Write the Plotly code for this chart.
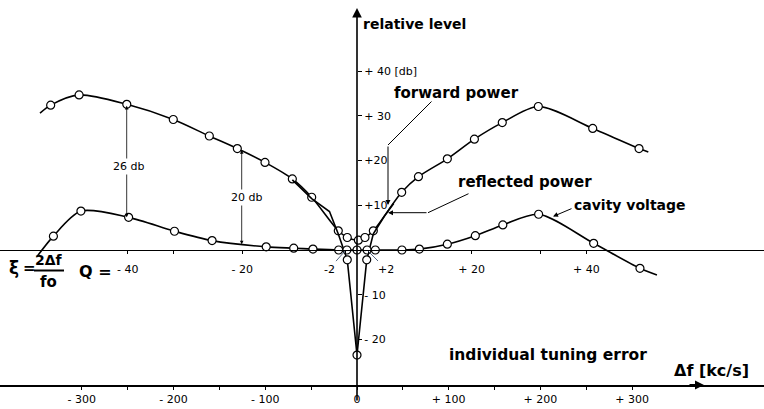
import plotly.graph_objects as go

# ---------------- data ----------------
# forward power: detuning [kc/s] and relative level [db]
fwd_freq = [-345.6, -334.0, -303.0, -251.0, -200.3, -161.0, -130.5, -100.3, -70.5, -49.4,
            -20.4, -10.6, 1.5, 8.7, 17.8, 48.7, 67.0, 98.5, 128.0, 158.4, 197.7, 257.0, 307.5, 317.6]
fwd_db = [30.6, 32.4, 34.7, 32.6, 29.2, 25.5, 22.7, 19.6, 15.9, 11.8,
          4.3, 2.8, 2.2, 2.8, 4.3, 12.9, 16.4, 20.4, 24.8, 28.5, 32.1, 27.2, 22.7, 21.9]
fwd_marker = [0] + [1] * 22 + [0]

# cavity voltage
cav_freq = [-349.0, -331.0, -301.0, -249.0, -199.0, -158.0, -99.0, -69.0, -48.0, -20.0, -11.0, 0.0,
            11.0, 20.0, 49.0, 68.0, 98.5, 129.0, 159.0, 198.0, 258.0, 308.5, 327.0]
cav_db = [-1.5, 3.1, 8.7, 7.3, 4.2, 2.1, 0.7, 0.4, 0.2, 0.0, 0.0, 0.0,
          0.0, 0.0, 0.0, 0.2, 1.3, 3.2, 5.6, 8.0, 1.5, -4.1, -5.6]
cav_marker = [0] + [1] * 21 + [0]

# reflected power
ref_freq = [-70.5, -49.4, -30.0, -20.4, -10.6, 0.0, 10.6, 17.8, 30.0, 40.0]
ref_db = [15.7, 11.5, 8.6, 3.6, -2.2, -23.5, -2.2, 3.6, 7.6, 10.4]
ref_marker = [0, 0, 0, 0, 1, 1, 1, 0, 0, 0]

# axes ticks
df_ticks = [-300, -250, -200, -150, -100, -50, 0, 50, 100, 150, 200, 250, 300]
df_labels = ["- 300", "", "- 200", "", "- 100", "", "0", "", "+ 100", "", "+ 200", "", "+ 300"]
q_ticks = [-40, -32, -20, -2, 2, 20, 32, 40]
q_labels = ["- 40", "", "- 20", "", "", "+ 20", "", "+ 40"]
db_ticks = [-20, -10, 10, 20, 30, 40]
db_labels = ["- 20", "- 10", "+10", "+20", "+ 30", "+ 40 [db]"]

# ---------------- geometry helpers (pixel -> data) ----------------
W, H = 764, 409
X0, KX = 357.0, 0.9172   # pixel of 0 kc/s, px per kc/s
Y0, KY = 250.0, 4.47     # pixel of 0 db, px per db
Q_PER_KC = 40.0 / 250.0


def fx(px):
    return (px - X0) / KX


def fy(py):
    return (Y0 - py) / KY


FONT = "DejaVu Sans"
fig = go.Figure()

mk = dict(symbol="circle", size=8, color="white", line=dict(color="black", width=1.2))

fig.add_trace(go.Scatter(x=fwd_freq, y=fwd_db, mode="lines+markers",
                         line=dict(color="black", width=1.6, shape="spline", smoothing=0.8),
                         marker=dict(mk, opacity=fwd_marker), name="forward power"))
fig.add_trace(go.Scatter(x=ref_freq, y=ref_db, mode="lines+markers",
                         line=dict(color="black", width=1.6),
                         marker=dict(mk, opacity=ref_marker), name="reflected power"))
fig.add_trace(go.Scatter(x=cav_freq, y=cav_db, mode="lines+markers",
                         line=dict(color="black", width=1.6, shape="spline", smoothing=0.8),
                         marker=dict(mk, opacity=cav_marker), name="cavity voltage"))
# invisible trace so that the Q axis is drawn
fig.add_trace(go.Scatter(x=q_ticks, y=[0] * len(q_ticks), xaxis="x2", yaxis="y",
                         mode="markers", marker=dict(opacity=0), hoverinfo="skip"))

xr = [fx(0), fx(W)]
fig.update_layout(
    width=W, height=H, margin=dict(l=0, r=0, t=0, b=0), autosize=False,
    paper_bgcolor="white", plot_bgcolor="white", showlegend=False,
    font=dict(family=FONT, color="black"),
    xaxis=dict(range=xr, domain=[0, 1], anchor="free", position=1 - 386 / H,
               showline=True, linecolor="black", linewidth=1.5,
               ticks="outside", ticklen=3, tickwidth=1.2, tickcolor="black",
               tickvals=df_ticks, ticktext=df_labels, tickfont=dict(size=11, family=FONT),
               showgrid=False, zeroline=False),
    xaxis2=dict(range=[xr[0] * Q_PER_KC, xr[1] * Q_PER_KC], overlaying="x", anchor="free",
                position=1 - 250 / H, side="bottom",
                showline=True, linecolor="black", linewidth=1.4,
                ticks="outside", ticklen=3, tickwidth=1.2, tickcolor="black",
                tickvals=q_ticks, ticktext=q_labels, tickfont=dict(size=11, family=FONT),
                ticklabelstandoff=6, showgrid=False, zeroline=False),
    yaxis=dict(range=[fy(H), fy(0)], domain=[0, 1], anchor="free", position=X0 / W, side="right",
               showline=False, ticks="outside", ticklen=4, tickwidth=1.2, tickcolor="black",
               tickvals=db_ticks, ticktext=db_labels, tickfont=dict(size=11, family=FONT),
               showgrid=False, zeroline=False),
)

anns = []


def text(t, px, py, size=15, bold=True, xanchor="left", bg=None):
    a = dict(x=fx(px), y=fy(py), xref="x", yref="y", text=f"<b>{t}</b>" if bold else t,
             showarrow=False, xanchor=xanchor, yanchor="middle",
             font=dict(size=size, family=FONT, color="black"))
    if bg:
        a["bgcolor"] = bg
    anns.append(a)


def arrow(px1, py1, px2, py2, head=0, width=1.0, side="end", size=1.0):
    anns.append(dict(x=fx(px2), y=fy(py2), ax=fx(px1), ay=fy(py1), xref="x", yref="y",
                     axref="x", ayref="y", text="", showarrow=True, arrowhead=head,
                     startarrowhead=head, arrowside=side, arrowwidth=width,
                     arrowsize=size, startarrowsize=size, arrowcolor="black"))


# vertical axis with arrow
arrow(357, 402, 357, 8, head=2, width=1.6, size=1.2)
# arrow on the delta-f axis
arrow(688, 385, 704, 385, head=2, width=1.8, size=1.0)

text("relative level", 361, 24, size=14)
text("forward power", 392, 93, size=15)
text("reflected power", 456, 182, size=15)
text("cavity voltage", 572, 205, size=14)
text("individual tuning error", 447, 355, size=15.5)
text("Δf [kc/s]", 672, 370, size=16)

# leader lines
arrow(433, 100, 388, 145)
arrow(388, 145, 388, 205, head=2, width=1.0, size=1.0)
arrow(470, 193, 428, 212.7)
arrow(428, 212.7, 388, 212.7, head=2, width=1.0, size=1.0)
arrow(573, 208, 553, 216.5, head=2, width=1.0, size=1.0)

# level differences
arrow(126.7, 104.3, 126.7, 217.3, head=2, width=0.8, side="end+start", size=0.9)
arrow(241.7, 148.7, 241.7, 244.3, head=2, width=0.8, side="end+start", size=0.9)
text("26 db", 128, 166, size=11, bold=False, xanchor="center", bg="white")
text("20 db", 246, 197, size=11, bold=False, xanchor="center", bg="white")

# -2 / +2 labels of the Q scale
anns.append(dict(x=fx(345), y=fy(251), ax=fx(329), ay=fy(269), xref="x", yref="y",
                 axref="x", ayref="y", text="-2", showarrow=True, arrowhead=0, arrowwidth=0.8,
                 font=dict(size=11, family=FONT, color="black")))
anns.append(dict(x=fx(368), y=fy(251), ax=fx(386), ay=fy(269), xref="x", yref="y",
                 axref="x", ayref="y", text="+2", showarrow=True, arrowhead=0, arrowwidth=0.8,
                 font=dict(size=11, family=FONT, color="black")))

# xi = 2 delta f / fo   Q =
text("ξ", 7, 268, size=17)
text("=", 21, 268, size=15)
text("2Δf", 49, 260, size=14, xanchor="center")
text("fo", 48, 282, size=15, xanchor="center")
text("Q =", 77, 271, size=16)

fig.update_layout(annotations=anns)
fig.add_shape(type="line", xref="x", yref="y", x0=fx(34), x1=fx(64), y0=fy(270.5), y1=fy(270.5),
              line=dict(color="black", width=2))

fig.write_html("out.html", config={"displayModeBar": False},
               post_script="document.body.style.margin='0';"
                           "document.body.style.overflow='hidden';")
